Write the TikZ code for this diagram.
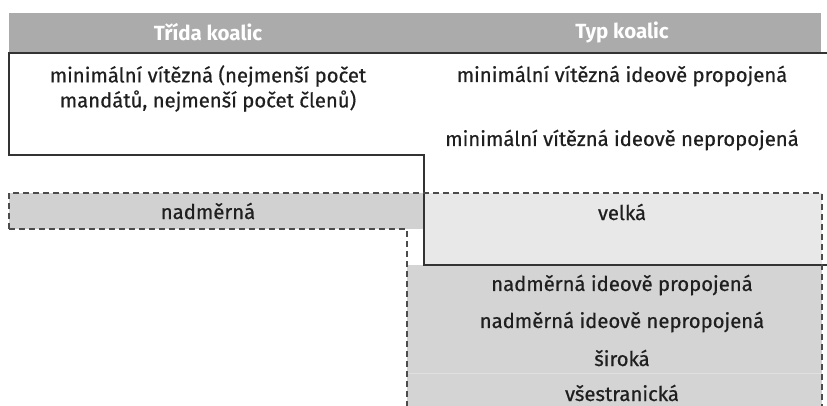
\documentclass[tikz,border=0pt]{standalone}
\usepackage{fontspec}
\setmainfont{Fira Sans}
\newfontfamily\medfont{Fira Sans}[FakeBold=0.6]
\begin{document}
\begin{tikzpicture}[x=1pt,y=-1pt,
  txt/.style={inner sep=0pt,font=\medfont\fontsize{20.3}{25}\selectfont,text=black!88},
  head/.style={inner sep=0pt,font=\fontsize{20.5}{24}\selectfont\bfseries,text=white},
  solidline/.style={draw=black!80,line width=1.6pt},
  dashline/.style={draw=black!70,line width=1.8pt,dash pattern=on 6pt off 4pt}]
\useasboundingbox (0,0) rectangle (827,406);
% fills
\fill[black!33] (9,13) rectangle (821,52);
\fill[black!18] (9,193) rectangle (424,229);
\fill[black!9] (424,193) rectangle (822,265);
\fill[black!17] (407,265) rectangle (822,406);
\draw[black!12,line width=0.6pt] (407,373) -- (822,373);
% borders
\draw[solidline] (827,53) -- (9,53) -- (9,155) -- (424,155) -- (424,265) -- (827,265);
\draw[dashline] (9,229) -- (9,193) -- (822,193) -- (822,406);
\draw[dashline] (9,229) -- (407,229) -- (407,406);
% texts
\node[head] (h1) at (208,32) {Třída koalic};
\node[head] (h2) at (622,32) {Typ koalic};
\node[txt,align=center] (a1) at (208,88.5) {minimální vítězná (nejmenší počet\\mandátů, nejmenší počet členů)};
\node[txt] (b1) at (622,76) {minimální vítězná ideově propojená};
\node[txt] (b2) at (622,140) {minimální vítězná ideově nepropojená};
\node[txt] (a2) at (208,211) {nadměrná};
\node[txt] (b3) at (622,212) {velká};
\node[txt] (b4) at (622,285) {nadměrná ideově propojená};
\node[txt] (b5) at (622,322) {nadměrná ideově nepropojená};
\node[txt] (b6) at (622,358) {široká};
\node[txt] (b7) at (622,393) {všestranická};
\end{tikzpicture}
\end{document}
